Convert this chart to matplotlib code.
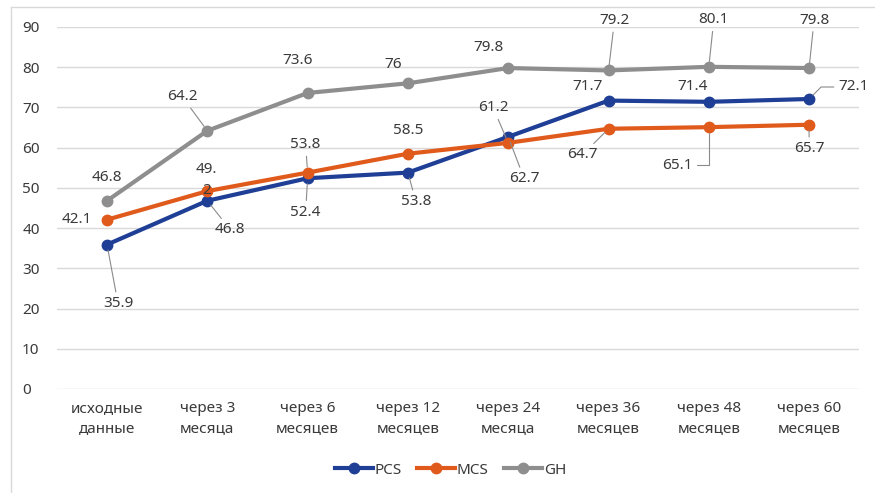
import numpy as np
import matplotlib.pyplot as plt
from matplotlib.lines import Line2D

plt.rcParams['font.family'] = ['Noto Sans', 'DejaVu Sans']

categories = ['исходные\nданные', 'через 3\nмесяца', 'через 6\nмесяцев', 'через 12\nмесяцев',
              'через 24\nмесяца', 'через 36\nмесяцев', 'через 48\nмесяцев', 'через 60\nмесяцев']
pcs = [35.9, 46.8, 52.4, 53.8, 62.7, 71.7, 71.4, 72.1]
mcs = [42.1, 49.2, 53.8, 58.5, 61.2, 64.7, 65.1, 65.7]
gh = [46.8, 64.2, 73.6, 76, 79.8, 79.2, 80.1, 79.8]

# label offsets in pixels (dx, dy up), and leader style (0 none, 1 straight, 2/3 elbow)
pcs_off = [(11, -59), (23, -29), (-2, -34), (8, -29), (16, -42), (-21, 14), (-16, 15), (44, 12)]
pcs_lead = [1, 1, 1, 1, 1, 0, 0, 2]
mcs_off = [(-30, 0), (-1, 11), (-2, 28), (0, 23), (-15, 35), (-26, -26), (-31, -38), (0, -24)]
mcs_lead = [0, 0, 1, 0, 1, 1, 3, 1]
gh_off = [(0, 23), (-25, 34), (-10, 32), (-15, 19), (-20, 21), (6, 50), (5, 47), (5, 48)]
gh_lead = [0, 1, 0, 0, 0, 1, 1, 1]

colors = {'PCS': '#1f3f96', 'MCS': '#e05a1c', 'GH': '#8e8e8e'}
text_col = '#3a3a3a'
fs = 11

fig = plt.figure(figsize=(8.75, 4.93), dpi=100)
ax = fig.add_axes([0.065, 1 - 389 / 493, 0.917, (389 - 27) / 493])
x = np.arange(len(categories))

# outer chart frame
fig.add_artist(Line2D([11 / 875, 11 / 875], [0, 1 - 7 / 493], transform=fig.transFigure,
                      color='#d9d9d9', lw=1))
fig.add_artist(Line2D([11 / 875, 1], [1 - 7 / 493, 1 - 7 / 493], transform=fig.transFigure,
                      color='#d9d9d9', lw=1))

for name, vals in [('PCS', pcs), ('MCS', mcs), ('GH', gh)]:
    ax.plot(x, vals, color=colors[name], lw=3, marker='o', ms=7.5, label=name, zorder=3)


def label_series(vals, offs, leads):
    for i, v in enumerate(vals):
        txt = str(v)
        if vals is mcs and i == 1:
            txt = txt[:3] + '\n' + txt[3:]
        props = None
        if leads[i] == 1:
            props = dict(arrowstyle='-', color='#8a8a8a', lw=0.8, shrinkA=1, shrinkB=4)
        elif leads[i] == 2:
            props = dict(arrowstyle='-', color='#8a8a8a', lw=0.8, shrinkA=1, shrinkB=4,
                         connectionstyle='angle,angleA=0,angleB=45,rad=0')
        elif leads[i] == 3:
            props = dict(arrowstyle='-', color='#8a8a8a', lw=0.8, shrinkA=1, shrinkB=4,
                         connectionstyle='angle,angleA=0,angleB=90,rad=0')
        ax.annotate(txt, (x[i], v), xytext=offs[i], textcoords='offset pixels',
                    ha='center', va='center', fontsize=fs, color=text_col,
                    arrowprops=props, linespacing=1.5, annotation_clip=False, zorder=4)


label_series(pcs, pcs_off, pcs_lead)
label_series(mcs, mcs_off, mcs_lead)
label_series(gh, gh_off, gh_lead)

ax.set_xlim(-0.5, 7.5)
ax.set_ylim(0, 90)
ax.set_yticks(np.arange(0, 91, 10))
ax.set_xticks(x)
ax.set_xticklabels(categories, linespacing=1.45)
ax.tick_params(axis='both', length=0, colors=text_col, labelsize=fs)
ax.tick_params(axis='x', pad=9)
ax.tick_params(axis='y', pad=25)
for lbl in ax.get_yticklabels():
    lbl.set_horizontalalignment('left')
ax.grid(axis='y', color='#d9d9d9', lw=1)
ax.set_axisbelow(True)
for s in ax.spines.values():
    s.set_visible(False)

fig.legend(loc='center', bbox_to_anchor=(0.515, 1 - 470 / 493), ncol=3, frameon=False,
           fontsize=fs, labelcolor=text_col, handlelength=2.5, columnspacing=1.0,
           handletextpad=0.1)

plt.savefig('out.png', dpi=100)
